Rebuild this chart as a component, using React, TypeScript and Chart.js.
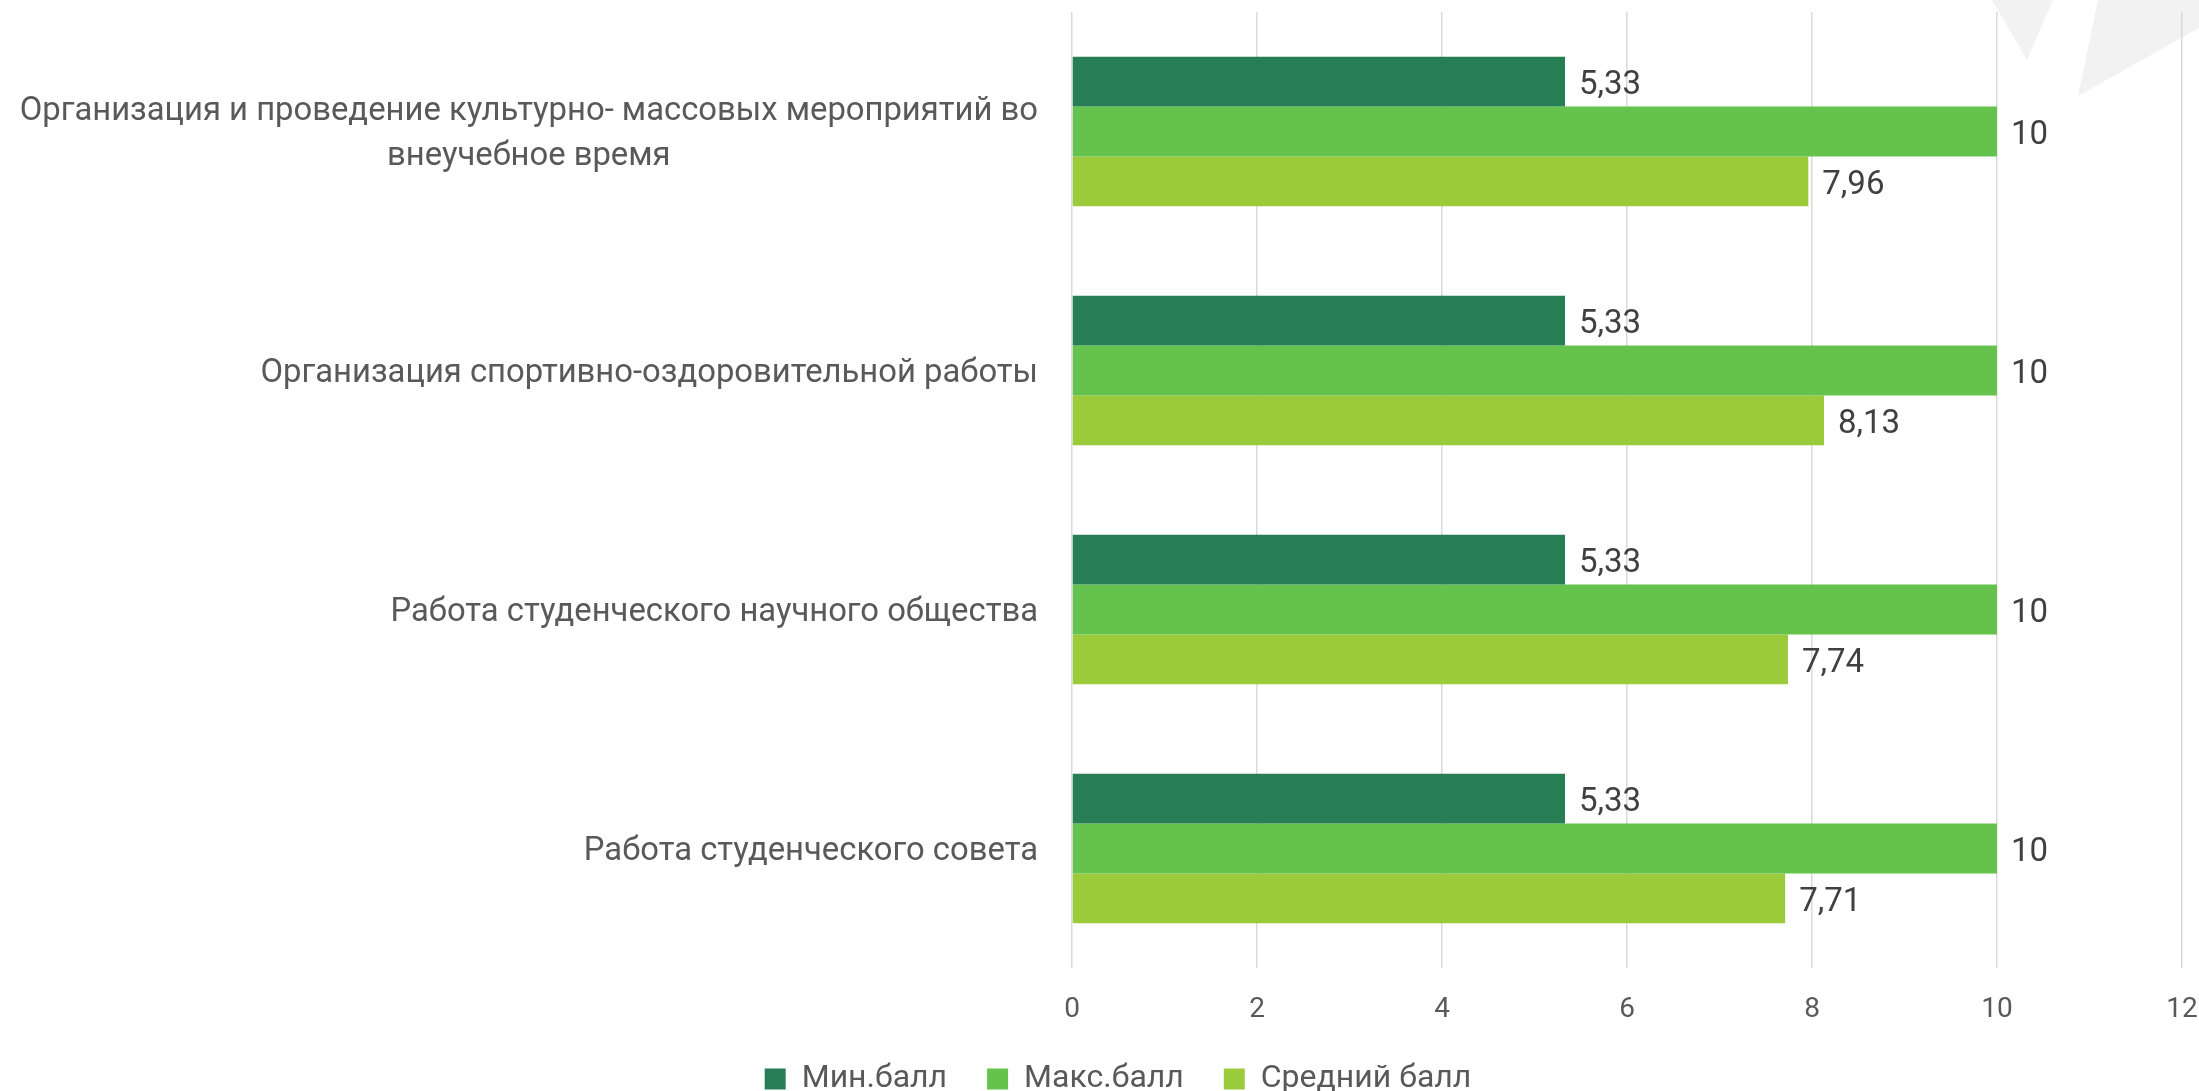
import React, { useEffect, useRef } from "react";
import { Chart, registerables } from "chart.js";

Chart.register(...registerables);

const categories: string[][] = [
  ["Организация и проведение культурно- массовых мероприятий во", "внеучебное время"],
  ["Организация спортивно-оздоровительной работы"],
  ["Работа студенческого научного общества"],
  ["Работа студенческого совета"],
];
const seriesNames = ["Мин.балл", "Макс.балл", "Средний балл"];
const minScores = [5.33, 5.33, 5.33, 5.33];
const maxScores = [10, 10, 10, 10];
const avgScores = [7.96, 8.13, 7.74, 7.71];
const xMin = 0;
const xMax = 12;
const xStep = 2;
const colors = ["#277E55", "#65C34D", "#9BCB3B"];

const FONT = "Roboto, 'Noto Sans', sans-serif";

const W = 2199;
const H = 1091;
const PAD_LEFT = 54;
const PAD_RIGHT = 17;
const PLOT_LEFT = 1072;

export default function App() {
  const ref = useRef<HTMLCanvasElement | null>(null);

  useEffect(() => {
    if (!ref.current) return;

    const watermark = {
      id: "watermark",
      beforeDraw(chart: any) {
        const ctx = chart.ctx;
        ctx.save();
        ctx.fillStyle = "#F2F2F2";
        ctx.beginPath();
        ctx.moveTo(1992, 0);
        ctx.lineTo(2053, 0);
        ctx.lineTo(2027, 60);
        ctx.closePath();
        ctx.fill();
        ctx.beginPath();
        ctx.moveTo(2098, 0);
        ctx.lineTo(2199, 0);
        ctx.lineTo(2199, 28);
        ctx.lineTo(2078, 96);
        ctx.closePath();
        ctx.fill();
        ctx.restore();
      },
    };

    const yLabels = {
      id: "yLabels",
      afterDraw(chart: any) {
        const ctx = chart.ctx;
        const ys = chart.scales.y;
        ctx.save();
        ctx.font = `400 32.8px ${FONT}`;
        ctx.fillStyle = "#595959";
        ctx.textBaseline = "middle";
        ctx.textAlign = "center";
        const rightX = chart.chartArea.left - 34;
        const lh = 45;
        categories.forEach((lines, i) => {
          const y = ys.getPixelForValue(i) + 3;
          const bw = Math.max(...lines.map((l) => ctx.measureText(l).width));
          const cx = rightX - bw / 2;
          lines.forEach((l, j) => {
            ctx.fillText(l, cx, y + (j - (lines.length - 1) / 2) * lh);
          });
        });
        ctx.restore();
      },
    };

    const dataLabels = {
      id: "dataLabels",
      afterDatasetsDraw(chart: any) {
        const ctx = chart.ctx;
        ctx.save();
        ctx.font = `400 33px ${FONT}`;
        ctx.fillStyle = "#404040";
        ctx.textBaseline = "middle";
        ctx.textAlign = "left";
        chart.data.datasets.forEach((ds: any, di: number) => {
          const meta = chart.getDatasetMeta(di);
          meta.data.forEach((el: any, i: number) => {
            const v = ds.data[i];
            ctx.fillText(String(v).replace(".", ","), el.x + 14, el.y + 4);
          });
        });
        ctx.restore();
      },
    };

    const chart = new Chart(ref.current, {
      type: "bar",
      data: {
        labels: categories.map((c) => c.join(" ")),
        datasets: [
          { label: seriesNames[0], data: minScores, backgroundColor: colors[0] },
          { label: seriesNames[1], data: maxScores, backgroundColor: colors[1] },
          { label: seriesNames[2], data: avgScores, backgroundColor: colors[2] },
        ],
      },
      options: {
        indexAxis: "y",
        responsive: false,
        animation: false,
        maintainAspectRatio: false,
        datasets: {
          bar: {
            barPercentage: 1,
            categoryPercentage: 0.625,
          },
        },
        layout: { padding: { top: 12, right: PAD_RIGHT, bottom: -14, left: PAD_LEFT } },
        scales: {
          x: {
            min: xMin,
            max: xMax,
            ticks: {
              stepSize: xStep,
              padding: 25,
              color: "#595959",
              font: { family: FONT, size: 28, weight: "400" },
            },
            grid: { color: "#D9D9D9", lineWidth: 1.5, drawTicks: false },
            border: { display: false },
            afterFit(scale: any) {
              scale.height = 55;
              scale.paddingRight = 0;
              scale.paddingLeft = 0;
            },
          },
          y: {
            ticks: { display: false },
            grid: { display: false, drawTicks: false },
            border: { display: false },
            afterFit(scale: any) {
              scale.width = PLOT_LEFT - PAD_LEFT;
            },
          },
        },
        plugins: {
          legend: {
            position: "bottom",
            labels: {
              boxWidth: 21,
              boxHeight: 21,
              padding: 40,
              color: "#595959",
              font: { family: FONT, size: 32, weight: "400" },
            },
          },
          tooltip: { enabled: false },
        },
      },
      plugins: [watermark, yLabels, dataLabels],
    } as any);

    return () => chart.destroy();
  }, []);

  return (
    <div style={{ position: "absolute", left: 0, top: 0, width: W, height: H, background: "#fff" }}>
      <canvas ref={ref} width={W} height={H} style={{ display: "block", width: W, height: H }} />
    </div>
  );
}
